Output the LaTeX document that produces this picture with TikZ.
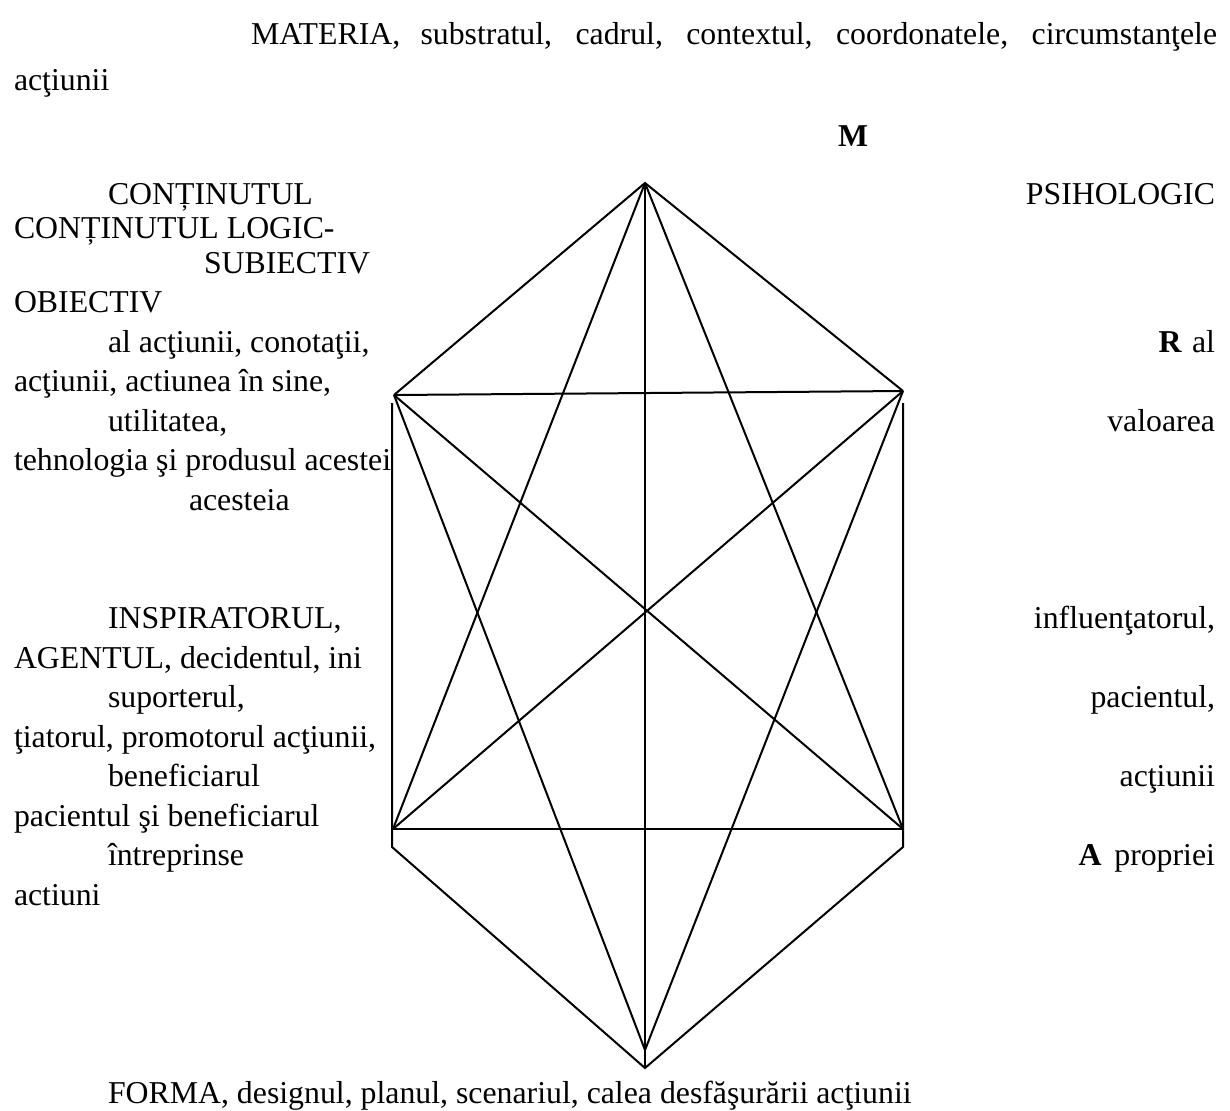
\documentclass[tikz,border=0pt]{standalone}
\usepackage{fontspec}
\setmainfont{Liberation Serif}
\usepackage{tikz}
\begin{document}
\begin{tikzpicture}[x=0.5pt, y=-0.5pt, line width=1pt,
    lft/.style={anchor=base west, inner sep=0pt, font=\fontsize{15.9}{19}\selectfont},
    rgt/.style={anchor=base east, inner sep=0pt, font=\fontsize{15.9}{19}\selectfont},
    bld/.style={anchor=base, inner sep=0pt, font=\fontsize{15.9}{19}\selectfont\bfseries}]
    \useasboundingbox (0,0) rectangle (1230,1110);
    \node [lft] (materia) at (250,44) {\makebox[483pt][s]{MATERIA, substratul, cadrul, contextul, coordonatele, circumstanţele}};
    \node [lft] (materia2) at (13,90) {acţiunii};
    \node [bld] (m) at (853,146) {M};
    \node [lft] (cont) at (107,204) {CONȚINUTUL};
    \node [rgt] (psih) at (1216,204) {PSIHOLOGIC};
    \node [lft] (logic) at (13,238) {CONȚINUTUL LOGIC-};
    \node [lft] (subiectiv) at (203,273.3) {SUBIECTIV};
    \node [lft] (obiectiv) at (13,312.8) {OBIECTIV};
    \node [lft] (conot) at (107,352.3) {al acţiunii, conotaţii,};
    \node [bld] (r) at (1170,352.3) {R};
    \node [rgt] (ral) at (1216,352.3) {al};
    \node [lft] (sine) at (13,391.8) {acţiunii, actiunea în sine,};
    \node [lft] (util) at (107,431.3) {utilitatea,};
    \node [rgt] (valoarea) at (1216,431.3) {valoarea};
    \node [lft] (tehno) at (13,470.8) {tehnologia şi produsul acestei};
    \node [lft] (acesteia) at (188,510.3) {acesteia};
    \node [lft] (inspir) at (107,628.8) {INSPIRATORUL,};
    \node [rgt] (influ) at (1216,628.8) {influenţatorul,};
    \node [lft] (agent) at (13,668.3) {AGENTUL, decidentul, ini};
    \node [lft] (suport) at (107,707.8) {suporterul,};
    \node [rgt] (pacient) at (1216,707.8) {pacientul,};
    \node [lft] (initiat) at (13,747.3) {ţiatorul, promotorul acţiunii,};
    \node [lft] (benef) at (107,786.8) {beneficiarul};
    \node [rgt] (actiunii) at (1216,786.8) {acţiunii};
    \node [lft] (pacbenef) at (13,826.3) {pacientul şi beneficiarul};
    \node [lft] (intrepr) at (107,865.8) {întreprinse};
    \node [bld] (a) at (1090,865.8) {A};
    \node [rgt] (propriei) at (1216,865.8) {propriei};
    \node [lft] (actiuni) at (13,905.3) {actiuni};
    \node [lft] (forma) at (107,1103.5) {FORMA, designul, planul, scenariul, calea desfăşurării acţiunii};
    \coordinate (top) at (645,183);
    \coordinate (bot) at (645,1068);
    \coordinate (mid) at (645,1050);
    \coordinate (ul) at (394,395);
    \coordinate (ur) at (903,391);
    \coordinate (ll) at (393,829);
    \coordinate (lr) at (903,829);
    \coordinate (hul) at (392,403);
    \coordinate (hll) at (392,847);
    \coordinate (hur) at (903,403);
    \coordinate (hlr) at (903,847);
    \draw (ul) -- (top) -- (ur);
    \draw (top) -- (bot);
    \draw (top) -- (ll);
    \draw (top) -- (lr);
    \draw (ul) -- (ur);
    \draw (ll) -- (lr);
    \draw (ul) -- (lr);
    \draw (ur) -- (ll);
    \draw (ul) -- (mid) -- (ur);
    \draw (hul) -- (hll) -- (bot) -- (hlr) -- (hur);
\end{tikzpicture}
\end{document}
